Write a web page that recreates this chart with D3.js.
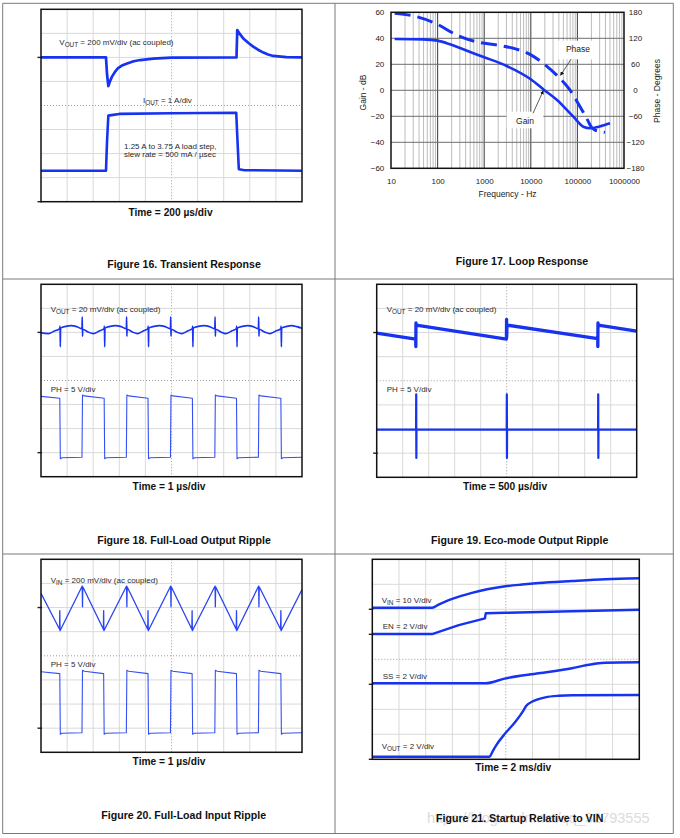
<!DOCTYPE html>
<html><head><meta charset="utf-8">
<script src="https://cdn.jsdelivr.net/npm/d3@7"></script>
<style>
body{margin:0;background:#fff;}
svg{display:block;font-family:"Liberation Sans",Arial,Helvetica,sans-serif;}
</style></head><body>
<svg id="page" width="680" height="838"></svg>
<script>
// ===================== DATA =====================
// Scope traces: [time in divisions (0..10), level in divisions (-4..4, centre = 0)]
const fig16Vout = [[0,2],[2.49,2],[2.53,1.3],[2.58,0.81],[2.64,1.0],[2.72,1.2],[2.85,1.42],[2.95,1.55],[3.1,1.66],[3.3,1.75],[3.55,1.84],[3.8,1.89],[4.3,1.95],[5,1.99],[7.49,2],[7.52,3.14],[7.6,3.0],[7.75,2.79],[7.95,2.6],[8.13,2.45],[8.3,2.33],[8.52,2.2],[8.7,2.12],[8.9,2.06],[9.4,2.01],[10,2]];
const fig16Iout = [[0,-2.71],[2.49,-2.71],[2.53,-1.5],[2.58,-0.42],[2.7,-0.4],[3.0,-0.35],[5,-0.32],[7.48,-0.3],[7.53,-1.5],[7.58,-2.65],[7.8,-2.69],[10,-2.71]];
const fig16Ground = [2,-4];

const fig18Vout = [[0,1.98],[0.28,1.95],[0.5,2.05],[0.72,2.16],[0.73,2.26],[0.74,1.4],[0.75,2.18],[0.95,2.25],[1.15,2.28],[1.37,2.24],[1.57,2.15],[1.58,2.65],[1.59,1.84],[1.6,2.13],[1.8,2.02],[2.0,1.95],
 [2.22,2.05],[2.42,2.16],[2.43,2.26],[2.44,1.4],[2.45,2.18],[2.65,2.25],[2.85,2.28],[3.07,2.24],[3.27,2.15],[3.28,2.65],[3.29,1.84],[3.3,2.13],[3.5,2.02],[3.7,1.95],
 [3.9,2.05],[4.1,2.16],[4.11,2.26],[4.12,1.4],[4.13,2.18],[4.33,2.25],[4.54,2.28],[4.76,2.24],[4.96,2.15],[4.97,2.65],[4.98,1.84],[4.99,2.13],[5.19,2.02],[5.39,1.95],
 [5.6,2.05],[5.8,2.16],[5.81,2.26],[5.82,1.4],[5.83,2.18],[6.03,2.25],[6.24,2.28],[6.46,2.24],[6.66,2.15],[6.67,2.65],[6.68,1.84],[6.69,2.13],[6.89,2.02],[7.08,1.95],
 [7.29,2.05],[7.49,2.16],[7.5,2.26],[7.51,1.4],[7.52,2.18],[7.72,2.25],[7.92,2.28],[8.13,2.24],[8.33,2.15],[8.34,2.65],[8.35,1.84],[8.36,2.13],[8.56,2.02],[8.77,1.95],
 [8.98,2.05],[9.19,2.16],[9.2,2.26],[9.21,1.4],[9.22,2.18],[9.42,2.25],[9.6,2.28],[9.8,2.24],[10,2.17]];
const fig18Ph = [[0,-0.66],[0.72,-0.74],[0.74,-3.25],[0.8,-3.21],[1.57,-3.19],
 [1.59,-0.6],[1.66,-0.64],[2.42,-0.74],[2.44,-3.25],[2.5,-3.21],[3.27,-3.19],
 [3.29,-0.6],[3.36,-0.64],[4.10,-0.74],[4.12,-3.25],[4.18,-3.21],[4.96,-3.19],
 [4.98,-0.6],[5.05,-0.64],[5.80,-0.74],[5.82,-3.25],[5.88,-3.21],[6.66,-3.19],
 [6.68,-0.6],[6.75,-0.64],[7.49,-0.74],[7.51,-3.25],[7.57,-3.21],[8.33,-3.19],
 [8.35,-0.6],[8.42,-0.64],[9.19,-0.74],[9.21,-3.25],[9.27,-3.21],[10,-3.19]];
const fig18Ground = [2,-3];

const fig19Vout = [[0,1.98],[1.5,1.73],[1.505,1.42],[1.51,2.4],[1.52,2.31],[4.99,1.73],[4.995,2.55],[5.0,1.8],[5.01,2.31],[8.5,1.75],[8.505,1.42],[8.51,2.4],[8.52,2.31],[10,2.06]];
const fig19Ph = [[0,-2.02],[1.515,-2.02],[1.52,-0.56],[1.525,-3.2],[1.53,-2.02],[5.0,-2.02],[5.005,-0.56],[5.01,-3.2],[5.015,-2.02],[8.515,-2.02],[8.52,-0.56],[8.525,-3.2],[8.53,-2.02],[10,-2.02]];
const fig19Ground = [2,-3];

const fig20Vin = [[0,2.59],[0.71,1.1],[0.72,1.87],[0.73,1.04],[1.58,2.89],[1.59,2.03],[1.6,2.86],[2.39,1.1],[2.40,1.87],[2.41,1.04],[3.28,2.89],[3.29,2.03],[3.3,2.86],[4.09,1.1],[4.10,1.87],[4.11,1.04],[4.97,2.89],[4.98,2.03],[4.99,2.86],[5.78,1.1],[5.79,1.87],[5.8,1.04],[6.67,2.89],[6.68,2.03],[6.69,2.86],[7.48,1.1],[7.49,1.87],[7.5,1.04],[8.34,2.89],[8.35,2.03],[8.36,2.86],[9.18,1.1],[9.19,1.87],[9.2,1.04],[10,2.75]];
const fig20Ph = [[0,-0.66],[0.72,-0.74],[0.74,-3.25],[0.8,-3.21],[1.57,-3.19],
 [1.59,-0.6],[1.66,-0.64],[2.40,-0.74],[2.42,-3.25],[2.48,-3.21],[3.27,-3.19],
 [3.29,-0.6],[3.36,-0.64],[4.10,-0.74],[4.12,-3.25],[4.18,-3.21],[4.96,-3.19],
 [4.98,-0.6],[5.05,-0.64],[5.79,-0.74],[5.81,-3.25],[5.87,-3.21],[6.66,-3.19],
 [6.68,-0.6],[6.75,-0.64],[7.49,-0.74],[7.51,-3.25],[7.57,-3.21],[8.33,-3.19],
 [8.35,-0.6],[8.42,-0.64],[9.19,-0.74],[9.21,-3.25],[9.27,-3.21],[10,-3.19]];
const fig20Ground = [2,-3];

const fig21Vin = [[0,2.06],[2.24,2.06],[2.5,2.2],[2.86,2.37],[3.3,2.53],[3.73,2.66],[4.3,2.8],[4.98,2.92],[5.6,2.99],[6.23,3.05],[7.48,3.13],[8.73,3.2],[10,3.24]];
const fig21En = [[0,1.01],[2.24,1.01],[3.24,1.37],[4.22,1.64],[4.23,1.72],[4.25,1.84],[4.98,1.86],[7.48,1.92],[10,1.98]];
const fig21Ss = [[0,-0.96],[4.23,-0.96],[5.0,-0.76],[6.23,-0.56],[7.48,-0.36],[8.0,-0.24],[8.4,-0.17],[8.73,-0.14],[10,-0.12]];
const fig21Vout = [[0,-3.9],[4.38,-3.9],[4.5,-3.7],[4.61,-3.49],[4.98,-2.96],[5.36,-2.5],[5.67,-2.03],[5.76,-1.87],[5.98,-1.7],[6.2,-1.6],[6.48,-1.52],[6.98,-1.46],[7.5,-1.44],[10,-1.43]];
const fig21Ground = [2,1,-1,-4];

// Loop response (Figure 17)
const gainFreq = [12,49,100,185,585,1000,3050,10000,19300,36500,82000,134000,186000,300000,500000];
const gainDb   = [39.5,39.2,38.2,35.4,28.5,25.4,18.7,8.5,0.3,-7.4,-20.3,-28,-29.2,-27.8,-25.4];
const phaseFreq = [12,35,96,257,813,1860,4220,9600,18600,35900,69000,114000,158000,200000,240000,300000,390000];
const phaseDeg  = [177.7,170,153,127.7,110,104.6,97,83,62,35,0.8,-37.7,-64.6,-85,-92,-95,-97];
const freqTicks  = [10,100,1000,10000,100000,1000000];
const gainTicks  = [60,40,20,0,-20,-40,-60];
const phaseTicks = [180,120,60,0,-60,-120,-180];

// ===================== DRAWING =====================
const svg = d3.select("#page");
const BLUE = "#1733f0";
const FONT = '"Liberation Sans",Arial,Helvetica,sans-serif';

// page borders
const bx = [2.7, 335, 673.3], by = [3.3, 279, 554, 833.5];
bx.forEach(x => svg.append("line").attr("x1",x).attr("x2",x).attr("y1",by[0]).attr("y2",by[3]).attr("stroke","#7a7a7a").attr("stroke-width",1));
by.forEach(y => svg.append("line").attr("x1",bx[0]).attr("x2",bx[2]).attr("y1",y).attr("y2",y).attr("stroke","#7a7a7a").attr("stroke-width",1));

let clipId = 0;
function drawScope(f, traces, ground, labels) {
  const x = d3.scaleLinear().domain([0,10]).range([f.x0,f.x1]);
  const y = d3.scaleLinear().domain([-4,4]).range([f.y1,f.y0]);
  const g = svg.append("g");
  const cid = "clip" + (clipId++);
  g.append("clipPath").attr("id",cid).append("rect").attr("x",f.x0).attr("y",f.y0).attr("width",f.x1-f.x0).attr("height",f.y1-f.y0);
  // grid
  g.selectAll(".vg").data(x.ticks(10).filter(d=>d>0&&d<10)).join("line")
    .attr("x1",d=>x(d)).attr("x2",d=>x(d)).attr("y1",f.y0).attr("y2",f.y1)
    .attr("stroke",d=>d===5?"#9c9c9c":"#d9d9d9").attr("stroke-width",1)
    .attr("stroke-dasharray",d=>d===5?"1,2":null);
  g.selectAll(".hg").data(y.ticks(8).filter(d=>d>-4&&d<4)).join("line")
    .attr("y1",d=>y(d)).attr("y2",d=>y(d)).attr("x1",f.x0).attr("x2",f.x1)
    .attr("stroke",d=>d===0?"#9c9c9c":"#d9d9d9").attr("stroke-width",1)
    .attr("stroke-dasharray",d=>d===0?"1,2":null);
  // labels
  labels.forEach(l => {
    const t = g.append("text").attr("x",l.x).attr("y",l.y).attr("font-size",8).attr("fill","#2a2a2a");
    t.append("tspan").text(l.main);
    if (l.sub) {
      t.append("tspan").attr("dy",2.4).attr("font-size",6.4).text(l.sub);
      t.append("tspan").attr("dy",-2.4).text(l.rest);
    }
  });
  // traces
  const line = d3.line().x(d=>x(d[0])).y(d=>y(d[1]));
  traces.forEach(tr => {
    g.append("path").attr("d",line.curve(tr.curve||d3.curveLinear)(tr.data))
      .attr("fill","none").attr("stroke",tr.color||BLUE).attr("stroke-width",tr.w)
      .attr("stroke-linejoin","round").attr("clip-path",`url(#${cid})`);
  });
  // ground markers
  g.selectAll(".gm").data(ground).join("line")
    .attr("x1",f.x0-3.5).attr("x2",f.x0+1).attr("y1",d=>y(d)).attr("y2",d=>y(d))
    .attr("stroke","#222").attr("stroke-width",1.4);
  // frame
  g.append("rect").attr("x",f.x0).attr("y",f.y0).attr("width",f.x1-f.x0).attr("height",f.y1-f.y0)
    .attr("fill","none").attr("stroke","#111").attr("stroke-width",1.5);
}

function boldText(x, y, txt, size) {
  svg.append("text").attr("x",x).attr("y",y).attr("text-anchor","middle")
    .attr("font-size",size).attr("font-weight","bold").attr("fill","#111").text(txt);
}

// Figure 16
drawScope({x0:41,x1:302,y0:9.3,y1:201.7},
  [{data:fig16Vout,w:2.7},{data:fig16Iout,w:2.6}], fig16Ground,
  [{x:59.3,y:44.6,main:"V",sub:"OUT",rest:" = 200 mV/div (ac coupled)"},
   {x:143,y:103,main:"I",sub:"OUT",rest:" = 1 A/div"},
   {x:124,y:148.6,main:"1.25 A to 3.75 A load step,"},
   {x:124,y:157,main:"slew rate = 500 mA / µsec"}]);
boldText(170.5,215.5,"Time = 200 µs/div",10.2);
boldText(184,267.6,"Figure 16. Transient Response",10.6);

// Figure 18
drawScope({x0:41,x1:302,y0:284.3,y1:476.7},
  [{data:fig18Vout,w:1.6,curve:d3.curveMonotoneX},{data:fig18Ph,w:1.1,color:"#3550f2"}], fig18Ground,
  [{x:50.7,y:311.8,main:"V",sub:"OUT",rest:" = 20 mV/div (ac coupled)"},
   {x:50.7,y:392,main:"PH = 5 V/div"}]);
boldText(169,490.2,"Time = 1 µs/div",10.2);
boldText(184,543.6,"Figure 18. Full-Load Output Ripple",10.6);

// Figure 19
drawScope({x0:376.7,x1:636.7,y0:284.3,y1:477.3},
  [{data:fig19Vout,w:3.3},{data:fig19Ph,w:2.2}], fig19Ground,
  [{x:386.7,y:311.8,main:"V",sub:"OUT",rest:" = 20 mV/div (ac coupled)"},
   {x:386.7,y:392,main:"PH = 5 V/div"}]);
boldText(505,490.2,"Time = 500 µs/div",10.2);
boldText(519.7,543.6,"Figure 19. Eco-mode Output Ripple",10.6);

// Figure 20
drawScope({x0:41,x1:302,y0:559.3,y1:752.3},
  [{data:fig20Vin,w:1.3,color:"#2a45f2"},{data:fig20Ph,w:1.1,color:"#3550f2"}], fig20Ground,
  [{x:50.7,y:583,main:"V",sub:"IN",rest:" = 200 mV/div (ac coupled)"},
   {x:50.7,y:667,main:"PH = 5 V/div"}]);
boldText(169,765.2,"Time = 1 µs/div",10.2);
boldText(183.7,818.6,"Figure 20. Full-Load Input Ripple",10.6);

// Figure 21
drawScope({x0:372.3,x1:639.3,y0:559.3,y1:759.3},
  [{data:fig21Vin,w:2.4,curve:d3.curveMonotoneX},{data:fig21En,w:2.4},{data:fig21Ss,w:2.4,curve:d3.curveMonotoneX},{data:fig21Vout,w:2.4,curve:d3.curveMonotoneX}], fig21Ground,
  [{x:381.7,y:603,main:"V",sub:"IN",rest:" = 10 V/div"},
   {x:382.7,y:629,main:"EN = 2 V/div"},
   {x:382.7,y:678.6,main:"SS = 2 V/div"},
   {x:381.7,y:749,main:"V",sub:"OUT",rest:" = 2 V/div"}]);
boldText(513.3,771,"Time = 2 ms/div",10.2);
svg.append("text").attr("x",427).attr("y",823).attr("font-size",14.5).attr("fill","#dcdcdc").text("https://blog.csdn.net/qq_32793555");
boldText(519.7,822,"Figure 21. Startup Relative to VIN",10.6);

// Figure 17: loop response
(function(){
  const F = {x0:391,x1:624,y0:12.3,y1:168.3};
  const lx = d3.scaleLog().domain([10,1e6]).range([F.x0,F.x1]);
  const ly = d3.scaleLinear().domain([-60,60]).range([F.y1,F.y0]);
  const lp = d3.scaleLinear().domain([-180,180]).range([F.y1,F.y0]);
  const g = svg.append("g").attr("font-family",FONT);
  const decades = new Set(freqTicks);
  const vt = lx.ticks().filter(d=>d>10&&d<1e6);
  g.selectAll(".mv").data(vt).join("line")
    .attr("x1",d=>lx(d)).attr("x2",d=>lx(d)).attr("y1",F.y0).attr("y2",F.y1)
    .attr("stroke",d=>decades.has(d)?"#4a4a4a":"#ababab").attr("stroke-width",d=>decades.has(d)?1.1:0.8);
  g.selectAll(".hl").data(gainTicks.filter(d=>d>-60&&d<60)).join("line")
    .attr("x1",F.x0).attr("x2",F.x1).attr("y1",d=>ly(d)).attr("y2",d=>ly(d))
    .attr("stroke","#6e6e6e").attr("stroke-width",1);
  const clip = g.append("clipPath").attr("id","clipLoop").append("rect")
    .attr("x",F.x0).attr("y",F.y0).attr("width",F.x1-F.x0).attr("height",F.y1-F.y0);
  const gLine = d3.line().x((d,i)=>lx(gainFreq[i])).y(d=>ly(d)).curve(d3.curveMonotoneX);
  const pLine = d3.line().x((d,i)=>lx(phaseFreq[i])).y(d=>lp(d)).curve(d3.curveMonotoneX);
  g.append("path").attr("d",pLine(phaseDeg)).attr("fill","none").attr("stroke",BLUE)
    .attr("stroke-width",3).attr("stroke-dasharray","16,7").attr("clip-path","url(#clipLoop)");
  g.append("path").attr("d",gLine(gainDb)).attr("fill","none").attr("stroke",BLUE)
    .attr("stroke-width",2.6).attr("clip-path","url(#clipLoop)");
  g.append("rect").attr("x",F.x0).attr("y",F.y0).attr("width",F.x1-F.x0).attr("height",F.y1-F.y0)
    .attr("fill","none").attr("stroke","#111").attr("stroke-width",1.5);

  const ax = g.append("g").attr("transform",`translate(0,${F.y1})`)
    .call(d3.axisBottom(lx).tickValues(freqTicks).tickFormat(d3.format("d")).tickSize(0).tickPadding(10.5));
  const ay = g.append("g").attr("transform",`translate(${F.x0},0)`)
    .call(d3.axisLeft(ly).tickValues(gainTicks).tickSize(0).tickPadding(6.7));
  const ap = g.append("g").attr("transform",`translate(${F.x1},0)`)
    .call(d3.axisRight(lp).tickValues(phaseTicks).tickSize(0).tickPadding(11.5));
  [ax,ay,ap].forEach(a=>{ a.select(".domain").remove();
    a.selectAll("text").attr("font-size",8).attr("font-family",FONT).attr("fill","#222"); });
  ap.selectAll("text").attr("text-anchor","middle");

  g.append("text").attr("x",507.5).attr("y",197).attr("text-anchor","middle").attr("font-size",8.5).attr("fill","#222").text("Frequency - Hz");
  g.append("text").attr("transform","translate(366.3,92.5) rotate(-90)").attr("text-anchor","middle").attr("font-size",8.5).attr("fill","#222").text("Gain - dB");
  g.append("text").attr("transform","translate(660,91) rotate(-90)").attr("text-anchor","middle").attr("font-size",8.5).attr("fill","#222").text("Phase - Degrees");

  // annotations
  const defs = svg.append("defs");
  defs.append("marker").attr("id","arr").attr("viewBox","0 0 10 10").attr("refX",9).attr("refY",5)
    .attr("markerWidth",5).attr("markerHeight",5).attr("orient","auto")
    .append("path").attr("d","M0,0L10,5L0,10z").attr("fill","#111");
  g.append("rect").attr("x",558.3).attr("y",40.7).attr("width",40).attr("height",18.6).attr("fill","#fff");
  g.append("text").attr("x",578).attr("y",52.4).attr("text-anchor","middle").attr("font-size",8.5).attr("fill","#222").text("Phase");
  g.append("line").attr("x1",571).attr("y1",59.3).attr("x2",560.5).attr("y2",75.3).attr("stroke","#333").attr("stroke-width",0.8).attr("marker-end","url(#arr)");
  g.append("rect").attr("x",506.7).attr("y",111.7).attr("width",36.6).attr("height",16.6).attr("fill","#fff");
  g.append("text").attr("x",525).attr("y",123.8).attr("text-anchor","middle").attr("font-size",8.5).attr("fill","#222").text("Gain");
  g.append("line").attr("x1",533).attr("y1",113.3).attr("x2",543.3).attr("y2",90.7).attr("stroke","#333").attr("stroke-width",0.8).attr("marker-end","url(#arr)");
})();
boldText(522,265,"Figure 17. Loop Response",10.6);
</script>
</body></html>
